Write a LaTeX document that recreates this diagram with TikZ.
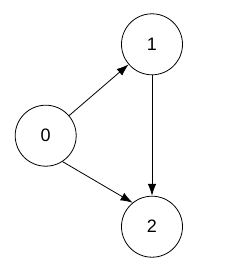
\documentclass[tikz,border=0pt]{standalone}
\usepackage{fontspec}
\setmainfont{Liberation Sans}
\usetikzlibrary{arrows.meta}

\begin{document}
\begin{tikzpicture}[x=1pt,y=-1pt,
    vertex/.style={draw,circle,minimum size=61pt,inner sep=0pt,line width=0.8pt,font=\fontsize{18}{21}\selectfont},
    edge/.style={-{Latex[length=12pt,width=8.5pt]},line width=0.8pt}]
  \useasboundingbox (0,0) rectangle (245,271);
  \node[vertex] (n0) at (45.7,135.7) {0};
  \node[vertex] (n1) at (152,44.3) {1};
  \node[vertex] (n2) at (152,226.7) {2};
  \draw[edge] (n0) -- (n1);
  \draw[edge] (n1) -- (n2);
  \draw[edge] (n0.-57) -- (n2.129);
\end{tikzpicture}
\end{document}
